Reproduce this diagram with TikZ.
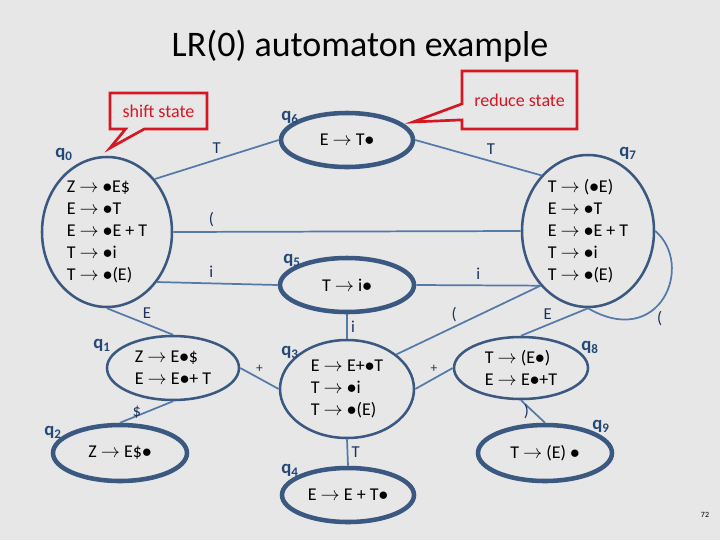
\documentclass[tikz,border=0pt]{standalone}
\usepackage{fontspec}
\setmainfont{Carlito}
\usepackage{tikz}
\usetikzlibrary{shapes.geometric, shapes.callouts, positioning, calc}
\definecolor{slidebg}{RGB}{231,231,231}
\definecolor{statedark}{RGB}{58,88,128}
\definecolor{edgeblue}{RGB}{84,122,170}
\definecolor{labnavy}{RGB}{28,50,92}
\definecolor{qblue}{RGB}{36,72,120}
\definecolor{calred}{RGB}{214,22,34}
\newcommand{\lrto}{ $\rightarrow$ }
\newcommand{\lrdot}{$\bullet$}
\tikzset{
  state/.style={ellipse, draw=statedark, line width=1.9pt, inner sep=0pt,
    align=left, font=\fontsize{13.5}{16.6}\selectfont},
  heavy/.style={state, line width=3.4pt},
  edge/.style={draw=edgeblue, line width=1.3pt},
  elab/.style={text=labnavy, font=\fontsize{12.5}{15}\selectfont, inner sep=1.5pt},
  plab/.style={elab, font=\fontsize{10}{12}\selectfont},
  qlab/.style={text=qblue, font=\fontsize{14}{16}\selectfont\bfseries},
  callout/.style={rectangle callout, draw=calred, line width=2pt, text=calred,
    font=\fontsize{13.5}{16}\selectfont, callout pointer width=14pt}
}

\begin{document}
\begin{tikzpicture}[x=0.75pt, y=-0.75pt]
  \useasboundingbox[fill=slidebg] (0,0) rectangle (720,540);
  \node[font=\fontsize{27}{31}\selectfont] (title) at (360,46) {LR(0) automaton example};

  % states
  \node[state, minimum width=97.5pt, minimum height=112.5pt] (q0) at (107,232)
    {Z\lrto\lrdot E\$\\E\lrto\lrdot T\\E\lrto\lrdot E + T\\T\lrto\lrdot i\\T\lrto\lrdot(E)};
  \node[heavy, minimum width=99pt, minimum height=40.5pt] (q6) at (347,140) {E\lrto T\lrdot};
  \node[state, minimum width=99pt, minimum height=114pt] (q7) at (588,231)
    {T\lrto(\lrdot E)\\E\lrto\lrdot T\\E\lrto\lrdot E + T\\T\lrto\lrdot i\\T\lrto\lrdot(E)};
  \node[heavy, minimum width=100.5pt, minimum height=40.5pt] (q5) at (347,285) {T\lrto i\lrdot};
  \node[state, minimum width=99pt, minimum height=48pt] (q1) at (173,368)
    {Z\lrto E\lrdot\$\\E\lrto E\lrdot+ T};
  \node[heavy, minimum width=100.5pt, minimum height=42pt] (q2) at (120,453) {Z\lrto E\$\lrdot};
  \node[state, minimum width=100.5pt, minimum height=73.5pt] (q3) at (347,389)
    {E\lrto E+\lrdot T\\T\lrto\lrdot i\\T\lrto\lrdot(E)};
  \node[heavy, minimum width=99pt, minimum height=40.5pt] (q4) at (348,495) {E\lrto E + T\lrdot};
  \node[state, minimum width=100.5pt, minimum height=46.5pt] (q8) at (521,368)
    {T\lrto(E\lrdot)\\E\lrto E\lrdot+T};
  \node[heavy, minimum width=100.5pt, minimum height=42pt] (q9) at (545,453) {T\lrto(E) \lrdot};

  % state names
  \node[qlab] (lq0) at (64,154) {q\textsubscript{0}};
  \node[qlab] (lq6) at (290,117) {q\textsubscript{6}};
  \node[qlab] (lq7) at (628,153) {q\textsubscript{7}};
  \node[qlab] (lq5) at (292,260) {q\textsubscript{5}};
  \node[qlab] (lq1) at (102,345) {q\textsubscript{1}};
  \node[qlab] (lq2) at (53,432) {q\textsubscript{2}};
  \node[qlab] (lq3) at (290,352) {q\textsubscript{3}};
  \node[qlab] (lq4) at (290,470) {q\textsubscript{4}};
  \node[qlab] (lq8) at (590,347) {q\textsubscript{8}};
  \node[qlab] (lq9) at (601,426) {q\textsubscript{9}};

  % transitions
  \draw[edge] (q0.48) -- (q6.west) node[elab, midway, above=2pt] {T};
  \draw[edge] (q0.east) -- (q7.west) node[elab, pos=0.11, above=2pt] {(};
  \draw[edge] (q0.-45) -- (q5.west) node[elab, pos=0.45, above=2pt] {i};
  \draw[edge] (q6.east) -- (q7.130) node[elab, pos=0.6, above=3pt] {T};
  \draw[edge] (q5.east) -- (q7.-131) node[elab, pos=0.5, above=2pt] {i};
  \draw[edge] (q0.south) -- (q1.north) node[elab, midway, above right=0pt] {E};
  \draw[edge] (q1.south) -- (q2.north) node[elab, midway, left=2pt] {\$};
  \draw[edge] (q1.east) -- (q3.west) node[plab, midway, above=2pt] {+};
  \draw[edge] (q5.south) -- (q3.north) node[elab, midway, right=1pt] {i};
  \draw[edge] (q3.35) -- (q7.-131) node[elab, pos=0.4, above=2pt] {(};
  \draw[edge] (q7.south) -- (q8.north) node[elab, midway, above left=0pt] {E};
  \draw[edge] (q7.east) .. controls (695,265) and (660,350) .. (q7.south)
    node[elab, pos=0.6, below right=0pt] {(};
  \draw[edge] (q3.east) -- (q8.west) node[plab, midway, above=2pt] {+};
  \draw[edge] (q8.south) -- (q9.north) node[elab, midway, left=1pt] {)};
  \draw[edge] (q3.south) -- (q4.north) node[elab, midway, right=1pt] {T};

  % callouts
  \coordinate (shifttip) at (110,148);
  \coordinate (reducetip) at (413,122);
  \node[callout, minimum width=72.75pt, minimum height=27pt,
    callout absolute pointer={(shifttip)}] (shift) at (158.5,111) {shift state};
  \node[callout, minimum width=86.25pt, minimum height=43.5pt,
    callout absolute pointer={(reducetip)}, callout pointer width=12pt] (reduce) at (519.5,100) {reduce state};

  \node[font=\fontsize{6}{7}\selectfont] (pagenum) at (705,515) {72};
\end{tikzpicture}
\end{document}
